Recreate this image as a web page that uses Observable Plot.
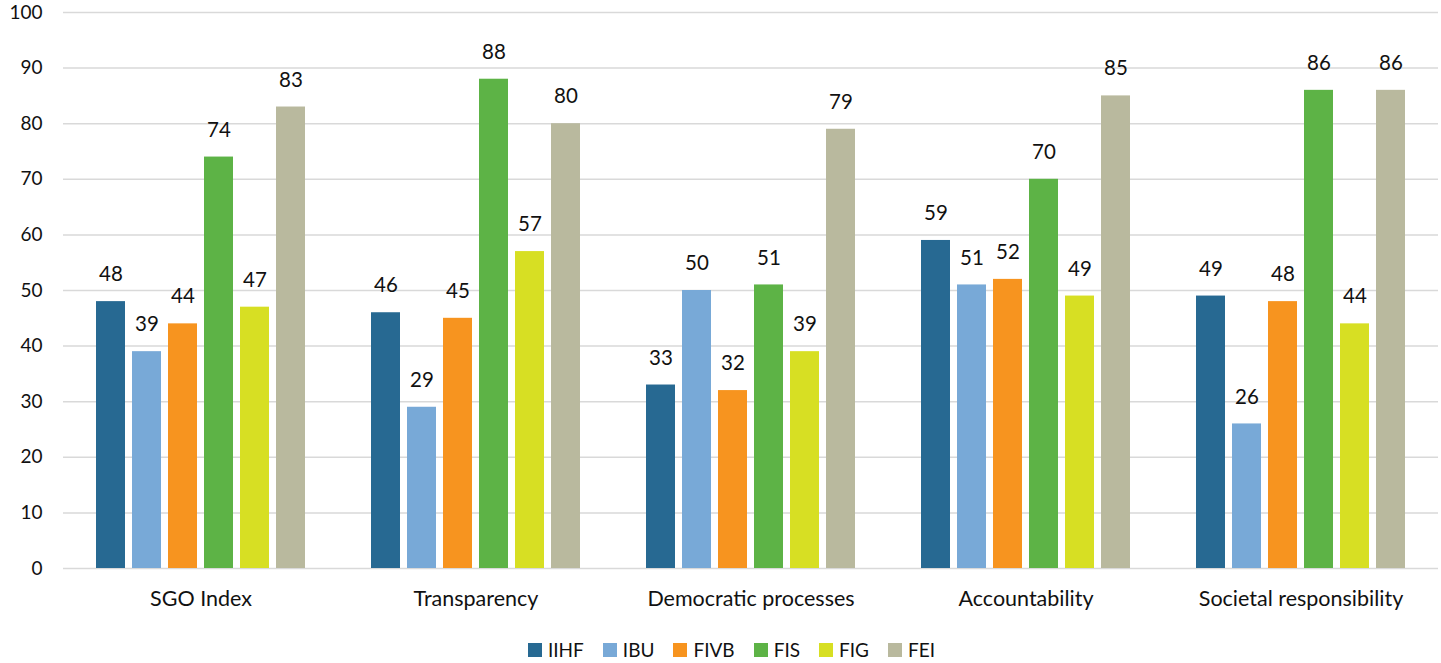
<!DOCTYPE html>
<html>
<head>
<meta charset="utf-8">
<script src="https://cdn.jsdelivr.net/npm/d3@7"></script>
<script src="https://cdn.jsdelivr.net/npm/@observablehq/plot@0.6"></script>
<style>
  html, body { margin: 0; padding: 0; background: #fff; }
  #chart { width: 1441px; }
  .legend { display: flex; justify-content: center; align-items: center; gap: 19px;
    font-family: Lato, "Open Sans", sans-serif; font-size: 19px; color: #111;
    padding-left: 22px; margin-top: 6px; height: 27px; }
  .legend span.item { display: flex; align-items: center; gap: 6px; }
  .legend span.sw { width: 14px; height: 14px; display: inline-block; }
</style>
</head>
<body>
<div id="chart"></div>
<script>
const categories = ["SGO Index", "Transparency", "Democratic processes", "Accountability", "Societal responsibility"];
const series = ["IIHF", "IBU", "FIVB", "FIS", "FIG", "FEI"];
const colors = ["#276992", "#78a9d7", "#f7941f", "#5db346", "#d7df23", "#b9b99e"];
const valuesIIHF = [48, 46, 33, 59, 49];
const valuesIBU  = [39, 29, 50, 51, 26];
const valuesFIVB = [44, 45, 32, 52, 48];
const valuesFIS  = [74, 88, 51, 70, 86];
const valuesFIG  = [47, 57, 39, 49, 44];
const valuesFEI  = [83, 80, 79, 85, 86];
const yTicks = [0, 10, 20, 30, 40, 50, 60, 70, 80, 90, 100];

const seriesValues = [valuesIIHF, valuesIBU, valuesFIVB, valuesFIS, valuesFIG, valuesFEI];
const data = [];
categories.forEach((c, i) => {
  series.forEach((s, j) => data.push({category: c, series: s, value: seriesValues[j][i]}));
});

const font = "Lato, 'Open Sans', sans-serif";

const plot = Plot.plot({
  width: 1441,
  height: 630,
  marginLeft: 62,
  marginRight: 2,
  marginTop: 12,
  marginBottom: 62,
  style: {fontFamily: font, fontSize: "19px", color: "#111", background: "#fff"},
  fx: {domain: categories, padding: 0, label: null},
  x: {domain: series, axis: null, paddingInner: 0.2, paddingOuter: 0.82},
  y: {domain: [0, 100], axis: null},
  color: {domain: series, range: colors},
  marks: [
    Plot.ruleY(yTicks, {stroke: "#d9d9d9", strokeWidth: 1.5}),
    Plot.axisY({ticks: yTicks, tickSize: 0, tickPadding: 21, label: null, fontSize: 19, facetAnchor: "left"}),
    Plot.axisFx({anchor: "bottom", tickSize: 0, tickPadding: 22, label: null, fontSize: 21.5}),
    Plot.barY(data, {fx: "category", x: "series", y: "value", fill: "series"}),
    Plot.text(data, {fx: "category", x: "series", y: "value", text: d => String(d.value), dy: -27, fontSize: 20.5, fill: "#111"})
  ]
});
document.getElementById("chart").appendChild(plot);

const legend = document.createElement("div");
legend.className = "legend";
series.forEach((s, i) => {
  const item = document.createElement("span");
  item.className = "item";
  const sw = document.createElement("span");
  sw.className = "sw";
  sw.style.background = colors[i];
  item.appendChild(sw);
  item.appendChild(document.createTextNode(s));
  legend.appendChild(item);
});
document.getElementById("chart").appendChild(legend);
</script>
</body>
</html>
